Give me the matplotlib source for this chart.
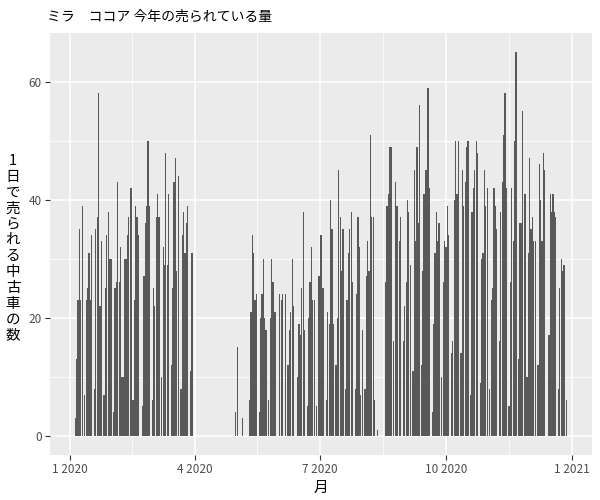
import pandas as pd
import numpy as np
import matplotlib
matplotlib.use('Agg')
import matplotlib.pyplot as plt
import matplotlib.dates as mdates

plt.rcParams['font.family'] = ['Noto Sans CJK JP', 'DejaVu Sans']

# Daily sales (0 = closed day)
start_jan = '2020-01-05'
sales_jan = [3, 13, 23, 35, 23, 39, 0, 7, 23, 25, 31, 23, 34, 0, 8, 35, 37, 58, 22, 33,
             0, 7, 25, 34, 38, 30, 30, 0, 4, 25, 26, 43, 26, 32, 10, 10, 30, 30, 34, 37,
             42, 42, 6, 23,
             39, 37, 34, 0, 0, 5, 27, 36, 39, 50, 39, 0, 6, 25, 22, 37, 41, 37, 0, 10,
             32, 29, 48, 29, 41, 0, 12, 25, 43, 47, 28, 44, 0, 8, 34, 38, 31, 36, 39, 0,
             11, 31]

start_may = '2020-05-01'
sales_may = [4, 15, 0, 0, 0, 3, 0, 0, 0, 0, 6, 21, 34, 31, 23, 24, 0, 4, 20, 24,
             30, 20, 18, 0, 6, 20, 30, 26, 21, 21, 0, 0, 24, 23, 24, 0, 24, 0, 12, 18,
             21, 30, 22, 0, 0, 10, 19, 17, 25, 38, 18, 0, 5, 20, 26, 32, 23, 23, 0, 5,
             27, 27, 34, 25, 25, 0, 6, 21, 19, 40, 35, 19, 0, 12, 20, 45, 37, 28, 35, 0,
             8, 23, 31, 35, 38, 26, 0, 8, 24, 37, 32, 7, 18, 0, 8, 27, 33, 28, 51, 37,
             37, 6, 0, 1]

start_aug = '2020-08-18'
sales_aug = [26, 39, 41, 49, 49, 0, 16, 43, 39, 39, 33, 37, 0, 16, 22, 26, 40, 38, 29, 0,
             11, 45, 33, 49, 36, 56, 12, 28, 41, 45, 45, 59, 42, 0, 4, 19, 31, 38, 33, 36,
             0, 10, 26, 33, 32, 39, 34, 0, 14, 16, 40, 50, 41, 50, 0, 14, 45, 39, 43, 49,
             50, 0, 7, 38, 42, 45, 50, 48, 0, 9, 30, 31, 45, 39, 42, 0, 8, 23, 25, 42,
             39, 35, 0, 16, 38, 43, 51, 58, 42, 0, 5, 26, 42, 33, 50, 65, 0, 13, 36, 36,
             55, 41, 41, 10, 31, 47, 35, 37, 33, 33, 0, 12, 46, 40, 33, 48, 45, 0, 0, 17,
             41, 38, 41, 38, 37, 0, 8, 25, 30, 28, 29, 0, 6]

tick_dates = ['2020-01-01', '2020-04-01', '2020-07-01', '2020-10-01', '2021-01-01']
tick_labels = ['1 2020', '4 2020', '7 2020', '10 2020', '1 2021']
y_ticks = [0, 20, 40, 60]
y_title = '1日で売られる中古車の数'

# Build one table of dates and sales
parts = []
for start, vals in [(start_jan, sales_jan), (start_may, sales_may), (start_aug, sales_aug)]:
    parts.append(pd.DataFrame({'date': pd.date_range(start, periods=len(vals)), 'sales': vals}))
df = pd.concat(parts, ignore_index=True)

fig = plt.figure(figsize=(6, 5), dpi=100)
ax = fig.add_axes([50 / 600, 45 / 500, 542 / 600, 422 / 500])
ax.set_facecolor('#EBEBEB')

ax.bar(df.date, df.sales, width=0.9, color='#595959', zorder=2)

# axis limits like ggplot's 5% expansion
dmin = mdates.date2num(df.date.min()) - 0.45
dmax = mdates.date2num(df.date.max()) + 0.45
pad = (dmax - dmin) * 0.05
ax.set_xlim(dmin - pad, dmax + pad)
ymax = max(df.sales)
ax.set_ylim(-ymax * 0.05, ymax * 1.05)

major = [mdates.date2num(pd.Timestamp(d)) for d in tick_dates]
minor = [(a + b) / 2 for a, b in zip(major[:-1], major[1:])]
ax.set_xticks(major)
ax.set_xticklabels(tick_labels)
ax.set_xticks(minor, minor=True)
ax.set_yticks(y_ticks)
ax.set_yticks([10, 30, 50], minor=True)

ax.grid(True, which='major', color='white', linewidth=1.1, zorder=0)
ax.grid(True, which='minor', color='white', linewidth=0.55, zorder=0)
ax.set_axisbelow(True)

for s in ax.spines.values():
    s.set_visible(False)
ax.tick_params(which='major', length=3.5, width=0.8, color='#333333',
               labelcolor='#4D4D4D', labelsize=8.5, pad=2.5)
ax.tick_params(which='minor', length=0)

fig.text(47 / 600, 1 - 17 / 500, 'ミラ　ココア 今年の売られている量', fontsize=10,
         ha='left', va='center', color='black')
fig.text(321 / 600, 1 - 488 / 500, '月', fontsize=10.5, ha='center', va='center')

# vertical y title, one character per line
for i, ch in enumerate(y_title):
    fig.text(13 / 600, 1 - (161 + i * 15.85) / 500, ch, fontsize=10.5,
             ha='center', va='center')

fig.savefig('out.png', dpi=100)
